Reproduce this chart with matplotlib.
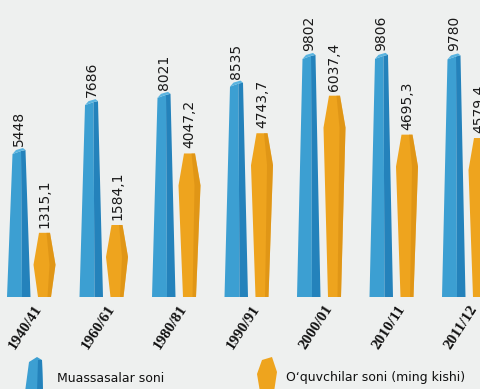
import matplotlib
matplotlib.use('Agg')
import matplotlib.pyplot as plt
from matplotlib.patches import Polygon

# data
years = ['1940/41', '1960/61', '1980/81', '1990/91', '2000/01', '2010/11', '2011/12']
muassasa = [5448, 7686, 8021, 8535, 9802, 9806, 9780]
oquvchi = [1315.1, 1584.1, 4047.2, 4743.7, 6037.4, 4695.3, 4579.4]
muassasa_lbl = ['5448', '7686', '8021', '8535', '9802', '9806', '9780']
oquvchi_lbl = ['1315,1', '1584,1', '4047,2', '4743,7', '6037,4', '4695,3', '4579,4']

W, H = 481, 389
bg = '#eef0ef'
blue, blue_dk = '#3c9fd2', '#2482bb'
orange, orange_dk = '#eea41e', '#d88d12'

fig = plt.figure(figsize=(W / 100, H / 100), dpi=100, facecolor=bg)
ax = fig.add_axes([0, 0, 1, 1])
ax2 = ax.twinx()
for a in (ax, ax2):
    a.set_axis_off()
    a.patch.set_visible(False)

# x: one unit per category, 72.5 px apart
pxx = 72.5
ax.set_xlim(-19 / pxx, (W - 19) / pxx)

# y: each series has its own scale, zero sits 118 px above the bottom
k1, k2 = 0.02184, 0.02904          # px per unit
zero_px = 118
ax.set_ylim(-zero_px / k1, (H - zero_px) / k1)
ax2.set_ylim(-zero_px / k2, (H - zero_px) / k2)
base1 = -26 / k1
base2 = -26 / k2

def px(v):
    return v / pxx

# blue columns
for i, v in enumerate(muassasa):
    x = i
    top = v
    face = [(x - px(12), base1), (x + px(3), base1), (x + px(2), top + 1 / k1),
            (x - px(6.5), top - 2 / k1)]
    side = [(x + px(3), base1), (x + px(11.5), base1), (x + px(6.5), top + 2 / k1),
            (x + px(2), top + 1 / k1)]
    cap = [(x - px(6.5), top - 2 / k1), (x - px(3), top + 2 / k1), (x + px(4), top + 4 / k1),
           (x + px(6.5), top + 2 / k1), (x + px(2), top + 1 / k1)]
    ax.add_patch(Polygon(face, closed=True, fc=blue, ec='none'))
    ax.add_patch(Polygon(side, closed=True, fc=blue_dk, ec='none'))
    ax.add_patch(Polygon(cap, closed=True, fc='#5ab4e0', ec='none'))
    ax.text(x, top + 6 / k1, muassasa_lbl[i], rotation=90, ha='center', va='bottom',
            fontsize=10, color='#1a1a1a')

# orange hexagons
off = 25.5 / pxx
for i, v in enumerate(oquvchi):
    x = i + off
    top = v
    mid = top - 32 / k2
    hexa = [(x - px(5.5), top), (x + px(5.5), top), (x + px(11), mid),
            (x + px(6.5), base2), (x - px(6.5), base2), (x - px(11), mid)]
    ax2.add_patch(Polygon(hexa, closed=True, fc=orange, ec='none'))
    shade = [(x + px(2), top), (x + px(5.5), top), (x + px(11), mid),
             (x + px(6.5), base2), (x + px(3), base2), (x + px(5), mid)]
    ax2.add_patch(Polygon(shade, closed=True, fc=orange_dk, ec='none', alpha=0.6))
    ax2.text(x, top + 5 / k2, oquvchi_lbl[i], rotation=90, ha='center', va='bottom',
             fontsize=10, color='#1a1a1a')

# category labels
for i, y in enumerate(years):
    ax.text(i + px(15), base1 - 6 / k1, y, rotation=57, rotation_mode='anchor',
            ha='right', va='top', fontsize=11, fontweight='bold',
            family='Liberation Serif', color='#111111')

# legend
fax = fig.add_axes([0, 0, 1, 1])
fax.set_axis_off()
fax.set_xlim(0, W)
fax.set_ylim(H, 0)
fax.add_patch(Polygon([(25, 392), (29, 362), (37, 357), (42, 360), (43, 392)],
                      closed=True, fc=blue, ec='none'))
fax.add_patch(Polygon([(37, 392), (38, 360), (42, 360), (43, 392)],
                      closed=True, fc=blue_dk, ec='none'))
fax.text(57, 379, 'Muassasalar soni', fontsize=9, va='center', ha='left', color='#111111')
fax.add_patch(Polygon([(262, 360), (272, 357), (277, 372), (274, 392), (260, 392), (257, 374)],
                      closed=True, fc=orange, ec='none'))
fax.text(286, 377, 'O‘quvchilar soni (ming kishi)', fontsize=9, va='center', ha='left',
         color='#111111')

fig.savefig('out.png', dpi=100, facecolor=bg)
